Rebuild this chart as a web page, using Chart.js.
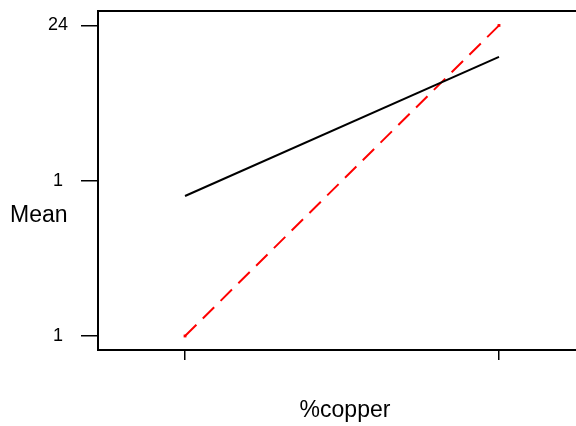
<!DOCTYPE html>
<html>
<head>
<meta charset="utf-8">
<script src="https://cdn.jsdelivr.net/npm/chart.js@4/dist/chart.umd.min.js"></script>
<style>
  html, body { margin: 0; padding: 0; background: #fff; overflow: hidden; }
  /* the plot frame runs past the right edge of the view */
  #view { width: 576px; height: 426px; overflow: hidden; position: relative; }
  #wrap { width: 592px; height: 426px; position: relative; }
</style>
</head>
<body>
<div id="view"><div id="wrap"><canvas id="c"></canvas></div></div>
<script>
// Interaction plot: mean response at the two %copper levels
const copperLevels = ['low', 'high'];
const seriesSolid = [11.37, 21.67];   // black solid line
const seriesDashed = [1, 24];         // red dashed line
const yTickValues = [1, 12.5, 24];
const yTickLabels = ['1', '1', '24'];

const FONT = '"Liberation Sans", Arial, sans-serif';

const toPoints = vals => vals.map((v, i) => ({ x: i, y: v }));

// Horizontal "Mean" label to the left of the value axis
const meanLabel = {
  id: 'meanLabel',
  afterDraw(chart) {
    const ctx = chart.ctx;
    ctx.save();
    ctx.font = '23px ' + FONT;
    ctx.fillStyle = '#000';
    ctx.textAlign = 'left';
    ctx.textBaseline = 'middle';
    ctx.fillText('Mean', 10, chart.chartArea.top + 204.5);
    ctx.restore();
  }
};

new Chart(document.getElementById('c'), {
  type: 'line',
  data: {
    datasets: [
      {
        label: 'solid',
        data: toPoints(seriesSolid),
        borderColor: '#000',
        borderWidth: 2,
        pointRadius: 0,
        tension: 0
      },
      {
        label: 'dashed',
        data: toPoints(seriesDashed),
        borderColor: '#ff0000',
        backgroundColor: '#ff0000',
        borderWidth: 2,
        borderDash: [16, 9],
        pointStyle: 'rect',
        pointRadius: 2,
        pointBorderWidth: 0,
        tension: 0
      }
    ]
  },
  options: {
    responsive: true,
    maintainAspectRatio: false,
    devicePixelRatio: 1,
    animation: false,
    layout: { autoPadding: false, padding: { left: 48, top: 11, right: 0, bottom: 0 } },
    plugins: { legend: { display: false }, tooltip: { enabled: false } },
    scales: {
      x: {
        type: 'linear',
        position: 'bottom',
        min: -0.2771,
        max: 1.2962,
        afterBuildTicks: s => { s.ticks = copperLevels.map((_, i) => ({ value: i })); },
        ticks: { display: false },
        grid: { drawOnChartArea: false, drawTicks: true, tickLength: 10, color: '#000', lineWidth: 1.5 },
        border: { display: true, color: '#000', width: 2 },
        title: {
          display: true,
          text: '%copper',
          color: '#000',
          font: { family: FONT, size: 23 },
          padding: { top: 36.4, bottom: 2 }
        }
      },
      xTop: {
        type: 'linear',
        position: 'top',
        min: 0,
        max: 1,
        ticks: { display: false },
        grid: { drawOnChartArea: false, drawTicks: false },
        border: { display: true, color: '#000', width: 2 }
      },
      y: {
        type: 'linear',
        position: 'left',
        min: -0.037,
        max: 25.07,
        afterBuildTicks: s => { s.ticks = yTickValues.map(v => ({ value: v })); },
        // keep the axis only as wide as tick + gap + label
        afterFit: s => { s.width -= s.options.ticks.padding; s.paddingTop = 0; s.paddingBottom = 0; },
        ticks: {
          color: '#000',
          font: { family: FONT, size: 18 },
          padding: 13,
          crossAlign: 'center',
          callback: (v, i) => yTickLabels[i]
        },
        grid: { drawOnChartArea: false, drawTicks: true, tickLength: 17, color: '#000', lineWidth: 1.5 },
        border: { display: true, color: '#000', width: 2 }
      }
    }
  },
  plugins: [meanLabel]
});
</script>
</body>
</html>
